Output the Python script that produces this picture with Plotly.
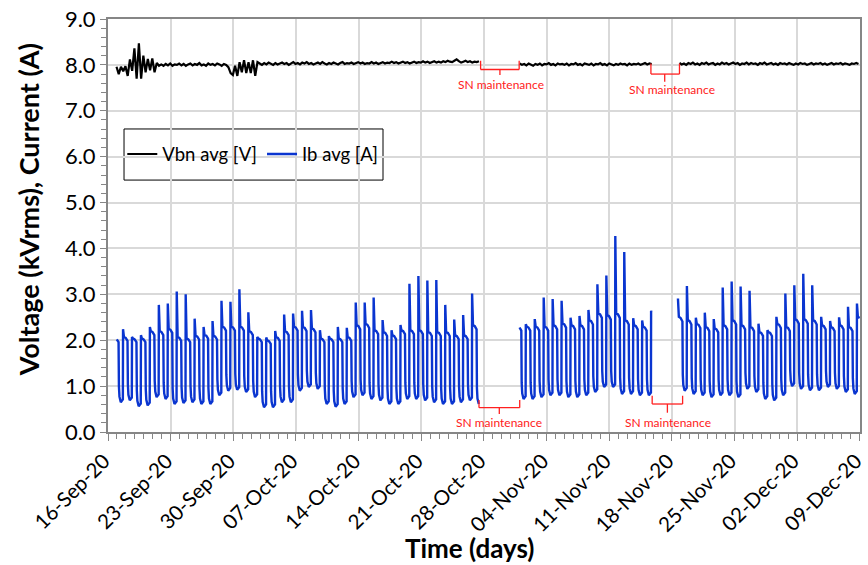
import pandas as pd
import plotly.graph_objects as go

# ---------------- data ----------------
# Ib avg [A]: one value per daily cycle k (cycle k rises at day k + 0.68 after 16-Sep-20)
ib_peak = [2.04, 2.24, 2.07, 2.11, 2.29, 2.77, 2.80, 3.06, 3.00, 2.47,
           2.29, 2.42, 2.86, 2.84, 3.11, 2.61, 2.07, 2.06, 2.20, 2.56,
           2.58, 2.64, 2.66, 2.22, 2.09, 2.29, 2.27, 2.82, 2.82, 2.93,
           2.44, 2.22, 2.33, 3.23, 3.40, 3.30, 3.31, 2.77, 2.45, 2.55,
           3.02, None, None, None, None, 2.30, 2.35, 2.46, 2.93, 2.90,
           2.86, 2.49, 2.53, 2.66, 3.22, 3.41, 4.27, 3.92, 2.48, 2.43,
           2.64, None, None, 2.91, 3.18, 2.49, 2.60, 2.46, 3.15, 3.28,
           3.17, 3.08, 2.36, 2.22, 2.51, 3.02, 3.20, 3.45, 3.20, 2.51,
           2.42, 2.50, 2.73, 2.80]
ib_plateau = [2.04, 2.07, 2.04, 2.04, 2.20, 2.20, 2.25, 2.07, 2.04, 2.10,
              2.12, 2.10, 2.30, 2.30, 2.30, 2.20, 2.04, 2.00, 2.07, 2.20,
              2.30, 2.29, 2.26, 2.04, 2.04, 2.04, 2.07, 2.33, 2.36, 2.22,
              2.18, 2.11, 2.22, 2.22, 2.22, 2.18, 2.18, 2.18, 2.11, 2.11,
              2.33, None, None, None, None, 2.30, 2.30, 2.30, 2.30, 2.33,
              2.37, 2.33, 2.33, 2.44, 2.59, 2.55, 2.59, 2.44, 2.33, 2.30,
              2.60, None, None, 2.51, 2.44, 2.36, 2.29, 2.26, 2.33, 2.44,
              2.33, 2.29, 2.18, 2.18, 2.36, 2.29, 2.46, 2.46, 2.44, 2.33,
              2.29, 2.33, 2.29, 2.51]
ib_low = [0.65, 0.69, 0.56, 0.58, 0.76, 0.72, 0.61, 0.63, 0.65, 0.61,
          0.61, 0.80, 0.90, 0.92, 0.87, 0.76, 0.54, 0.54, 0.65, 0.65,
          0.90, 0.98, 0.94, 0.61, 0.55, 0.61, 0.76, 0.80, 0.72, 0.69,
          0.61, 0.61, 0.72, 0.72, 0.69, 0.65, 0.61, 0.61, 0.65, 0.69,
          0.61, None, None, None, None, 0.72, 0.72, 0.76, 0.80, 0.80,
          0.76, 0.76, 0.80, 0.87, 0.98, 0.98, 0.83, 0.83, 0.80, 0.80,
          0.80, None, None, 0.90, 0.83, 0.80, 0.76, 0.80, 0.80, 0.76,
          0.94, 0.87, 0.72, 0.69, 0.80, 1.00, 0.94, 0.91, 0.91, 0.98,
          0.94, 0.87, 0.83, 0.83]
# recorded periods of Ib (days after 16-Sep-20)
ib_segments = [(0.93, 41.48), (45.97, 60.72), (63.68, 84.0)]

# Vbn avg [kV]: samples every 0.25 day, three recorded periods
vbn_start = [0.95, 46.0, 63.85]
vbn_a = [7.96, 7.80, 7.96, 7.86, 7.97, 7.76, 8.12, 7.87, 8.36, 7.70,
         8.47, 7.70, 8.20, 7.84, 8.13, 7.88, 8.14, 7.84, 8.04, 7.98,
         8.01, 7.98, 8.02, 7.99, 8.03, 7.98, 8.01, 8.00, 8.03, 7.99,
         8.02, 7.98, 8.01, 8.03, 7.99, 8.02, 8.00, 8.04, 7.99, 8.01,
         7.98, 8.03, 8.00, 8.02, 7.99, 8.03, 8.01, 7.98, 8.02, 8.00,
         7.95, 7.82, 7.78, 7.98, 7.76, 8.06, 7.84, 8.10, 7.82, 8.06,
         7.82, 8.10, 7.76, 8.06,
         8.03, 8.00, 8.04, 8.01, 8.05, 8.02, 8.00, 8.04, 8.01, 8.03,
         8.05, 8.02, 8.04, 8.00, 8.03, 8.06, 8.02, 8.04, 8.01, 8.05,
         8.03, 8.06, 8.02, 8.04, 8.01, 8.03, 8.05, 8.02, 8.06, 8.03,
         8.01, 8.04, 8.02, 8.05, 8.03, 8.01, 8.04, 8.06, 8.02, 8.04,
         8.03, 8.05, 8.02, 8.04, 8.06, 8.03, 8.05, 8.02, 8.04, 8.03,
         8.06, 8.03, 8.05, 8.02, 8.04, 8.06, 8.03, 8.05, 8.04, 8.07,
         8.04, 8.06, 8.03, 8.05, 8.07, 8.04, 8.06, 8.03, 8.05, 8.07,
         8.04, 8.06, 8.05, 8.08, 8.05, 8.07, 8.04, 8.06, 8.08, 8.05,
         8.07, 8.05, 8.08, 8.06, 8.09, 8.07, 8.06, 8.09, 8.12, 8.08,
         8.05, 8.07, 8.09, 8.06, 8.08, 8.05, 8.07, 8.06, 8.08]
vbn_b = [8.03, 8.00, 8.02, 7.99, 8.03, 8.01, 7.98, 8.02, 8.00, 8.03,
         7.99, 8.02, 8.01, 8.04, 8.00, 8.02, 7.99, 8.03, 8.01, 8.02,
         8.00, 8.03, 7.99, 8.02, 8.01, 8.04, 8.00, 8.02, 7.99, 8.03,
         8.01, 8.00, 8.03, 7.99, 8.02, 8.01, 8.04, 8.00, 8.02, 7.99,
         8.03, 8.01, 7.99, 8.02, 8.00, 8.03, 8.01, 8.02, 7.99, 8.03,
         8.00, 8.02, 8.01, 8.03, 8.00, 8.02, 8.04, 8.01, 8.03, 8.02]
vbn_c = [8.04, 8.01, 8.03, 8.00, 8.04, 8.02, 8.05, 8.01, 8.03, 8.00,
         8.04, 8.02, 8.05, 8.01, 8.03, 8.04, 8.00, 8.03, 8.01, 8.05,
         8.02, 8.04, 8.01, 8.03, 8.05, 8.02, 8.04, 8.00, 8.03, 8.02,
         8.05, 8.01, 8.04, 8.02, 8.03, 8.00, 8.04, 8.02, 8.05, 8.01,
         8.03, 8.04, 8.01, 8.03, 8.00, 8.04, 8.02, 8.03, 8.01, 8.04,
         8.02, 8.00, 8.03, 8.01, 8.04, 8.02, 8.03, 8.00, 8.02, 8.04,
         8.01, 8.03, 8.02, 8.04, 8.01, 8.03, 8.00, 8.02, 8.04, 8.01,
         8.03, 8.02, 8.04, 8.01, 8.03, 8.02, 8.00, 8.03, 8.02, 8.04,
         8.02]
vbn_step = 0.25

tick_start = "2020-09-16"
tick_end = "2020-12-09"
series_names = ["Vbn avg [V]", "Ib avg [A]"]
note_text = "SN maintenance"
x_title = "Time (days)"
y_title = "Voltage (kVrms), Current (A)"

# ---------------- build traces ----------------
BASE = pd.Timestamp(tick_start)
RISE = 0.68
PROFILE_T = [0.00, 0.03, 0.06, 0.10, 0.30, 0.50, 0.54, 0.60, 0.75, 0.90, 0.98]


def to_date(d):
    return BASE + pd.Timedelta(days=float(d))


def cycle_points(k):
    pk, pl, lo = ib_peak[k], ib_plateau[k], ib_low[k]
    vals = [pk, pl + 0.35 * (pk - pl), pl + 0.15 * (pk - pl), pl, pl * 0.99,
            pl * 0.96, lo + 0.35, lo + 0.12, lo, lo + 0.03, lo + 0.06]
    return [(k + RISE + dt, v) for dt, v in zip(PROFILE_T, vals)]


all_pts = []
for k in range(len(ib_peak)):
    if ib_peak[k] is not None:
        all_pts.extend(cycle_points(k))

ib_x, ib_y = [], []
for s, e in ib_segments:
    for t, v in all_pts:
        if s <= t <= e:
            ib_x.append(to_date(t))
            ib_y.append(v)
    ib_x.append(None)
    ib_y.append(None)

vb_x, vb_y = [], []
for st, vals in zip(vbn_start, [vbn_a, vbn_b, vbn_c]):
    for i, v in enumerate(vals):
        vb_x.append(to_date(st + i * vbn_step))
        vb_y.append(v)
    vb_x.append(None)
    vb_y.append(None)

FONT = "Lato"
RED = "#ff2020"
GRAY = "#868686"

fig = go.Figure()
fig.add_trace(go.Scatter(x=vb_x, y=vb_y, mode="lines", name=series_names[0],
                         line=dict(color="black", width=2.2), connectgaps=False))
fig.add_trace(go.Scatter(x=ib_x, y=ib_y, mode="lines", name=series_names[1],
                         line=dict(color="#0a35d0", width=2.4), connectgaps=False))


# maintenance brackets (decoration)
def bracket(d0, d1, dc, ytop, ymid, ytip):
    segs = [(d0, ytop, d0, ymid), (d0, ymid, d1, ymid), (d1, ymid, d1, ytop),
            (dc, ymid, dc, ytip)]
    for x0, y0, x1, y1 in segs:
        fig.add_shape(type="line", xref="x", yref="y",
                      x0=to_date(x0), y0=y0, x1=to_date(x1), y1=y1,
                      line=dict(color=RED, width=1.3))


bracket(41.45, 46.0, 43.72, 0.70, 0.53, 0.39)
bracket(60.8, 64.2, 62.5, 0.79, 0.61, 0.42)
bracket(41.63, 45.94, 43.79, 8.09, 7.90, 7.78)
bracket(60.66, 63.85, 62.2, 8.03, 7.80, 7.63)

for d, y in [(43.7, 0.2), (62.55, 0.21), (43.95, 7.58), (63.05, 7.47)]:
    fig.add_annotation(x=to_date(d), y=y, xref="x", yref="y", text=note_text,
                       showarrow=False, font=dict(family=FONT, size=12, color=RED))

# legend frame (paper coords)
fig.add_shape(type="rect", xref="paper", yref="paper",
              x0=0.0213, x1=0.3657, y0=0.610, y1=0.7337,
              line=dict(color="black", width=1), fillcolor="white", layer="below")

# axis titles as annotations (Excel centres them on the chart area)
fig.add_annotation(text="<b>" + x_title + "</b>", xref="paper", yref="paper",
                   x=0.481, y=-0.281, xanchor="center", yanchor="middle",
                   showarrow=False, font=dict(family=FONT, size=26, color="black"))
fig.add_annotation(text="<b>" + y_title + "</b>", xref="paper", yref="paper",
                   x=-0.106, y=0.5375, xanchor="center", yanchor="middle",
                   textangle=-90, showarrow=False,
                   font=dict(family=FONT, size=27, color="black"))

fig.update_layout(
    width=868, height=565,
    margin=dict(l=108, r=8, t=19, b=133),
    paper_bgcolor="white", plot_bgcolor="white",
    font=dict(family=FONT, color="black"),
    showlegend=True,
    legend=dict(orientation="h", x=0.019, y=0.672, xanchor="left", yanchor="middle",
                bgcolor="rgba(0,0,0,0)", borderwidth=0,
                font=dict(family=FONT, size=18.5, color="black")),
)
fig.update_xaxes(
    type="date", automargin=False,
    range=[to_date(0), to_date(84.02)],
    tickmode="linear", tick0=tick_start, dtick=7 * 86400000,
    tickformat="%d-%b-%y", tickangle=-45, ticklabeloverflow="allow",
    ticklabelshift=-4,
    tickfont=dict(family=FONT, size=20.5, color="black"),
    ticks="outside", ticklen=7, tickwidth=1, tickcolor=GRAY,
    showgrid=True, gridcolor="#d9d9d9", gridwidth=1.5,
    showline=True, linecolor=GRAY, linewidth=2, mirror=True,
    minor=dict(dtick=86400000, tick0=tick_start, ticks="outside", ticklen=5,
               tickcolor=GRAY, showgrid=False),
)
fig.update_yaxes(
    automargin=False,
    range=[0, 9], tickmode="linear", tick0=0, dtick=1, tickformat=".1f",
    tickfont=dict(family=FONT, size=22, color="black"),
    ticks="outside", ticklen=6, tickwidth=1, tickcolor=GRAY,
    showgrid=True, gridcolor="#d9d9d9", gridwidth=1.5, zeroline=False,
    showline=True, linecolor=GRAY, linewidth=2, mirror=True,
    minor=dict(dtick=0.2, ticks="outside", ticklen=5, tickcolor=GRAY, showgrid=False),
)

fig.write_html("out.html")
